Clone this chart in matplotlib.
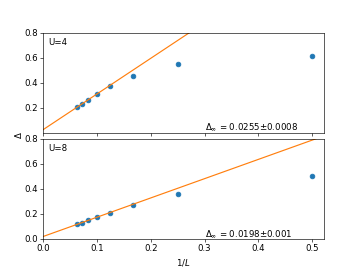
import numpy as np
import matplotlib
matplotlib.use("Agg")
import matplotlib.pyplot as plt

plt.rcParams["font.size"] = 11

# system sizes and 1/L
L = [2, 4, 6, 8, 10, 12, 14, 16]
inv_L = [1.0 / l for l in L]

gap_U4 = [0.615, 0.55, 0.455, 0.37, 0.31, 0.265, 0.23, 0.205]
gap_U8 = [0.50, 0.36, 0.268, 0.21, 0.175, 0.15, 0.13, 0.118]

# linear fits: intercept, slope
fit_U4 = [0.0255, 2.85]
fit_U8 = [0.0198, 1.54]
err_U4 = "0.0008"
err_U8 = "0.001"

panels = [("U=4", gap_U4, fit_U4, err_U4), ("U=8", gap_U8, fit_U8, err_U8)]

fig, axes = plt.subplots(2, 1, sharex=True, figsize=(6.4, 4.8))
fig.subplots_adjust(left=0.12, right=0.9, bottom=0.115, top=0.879, hspace=0.06)

xfit = np.linspace(0, 0.53, 50)
for ax, (lab, gap, fit, err) in zip(axes, panels):
    ax.plot(inv_L, gap, "o", color="C0")
    ax.plot(xfit, fit[0] + fit[1] * xfit, color="C1")
    ax.set_ylim(0, 0.8)
    ax.text(0.01, 0.72, lab, va="center")
    ax.text(0.3, 0.02, r"$\Delta_\infty$ = " + "%s±%s" % (fit[0], err))

axes[0].set_xlim(0, 0.5219)
axes[0].set_yticks([0.2, 0.4, 0.6, 0.8])
axes[1].set_xlabel(r"$1/L$")
fig.text(0.05, 0.5, r"$\Delta$", rotation=90, va="center", ha="center")

plt.savefig("out.png", dpi=56.25)
